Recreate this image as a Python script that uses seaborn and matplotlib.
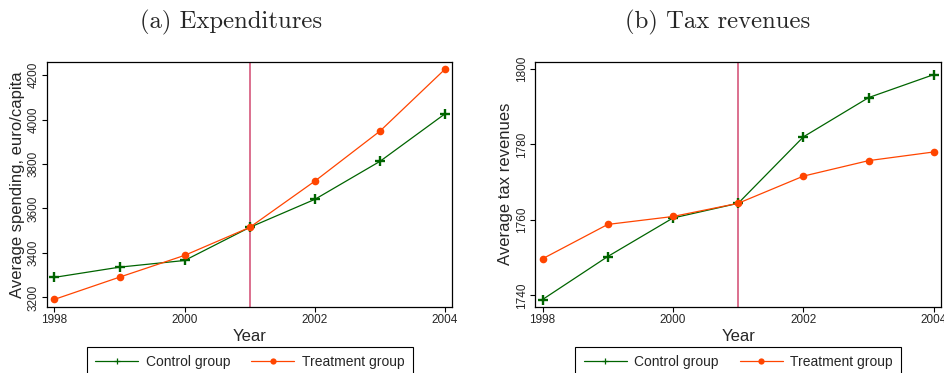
import matplotlib
matplotlib.use('Agg')

import pandas as pd
import matplotlib.pyplot as plt
import seaborn as sns

# data
years = [1998, 1999, 2000, 2001, 2002, 2003, 2004]
exp_control = [3290, 3336, 3366, 3515, 3641, 3812, 4026]
exp_treatment = [3191, 3291, 3389, 3515, 3723, 3948, 4227]
tax_control = [1738.9, 1750.3, 1760.5, 1764.4, 1782.0, 1792.4, 1798.5]
tax_treatment = [1749.7, 1758.8, 1760.9, 1764.4, 1771.6, 1775.7, 1778.0]
reform_year = 2001

GREEN = '#006400'
ORANGE = '#ff4500'
VLINE = '#d6587c'

sns.set_style('ticks')
plt.rcParams['font.family'] = ['Liberation Sans', 'DejaVu Sans']
plt.rcParams['axes.unicode_minus'] = False

fig = plt.figure(figsize=(9.45, 3.73), dpi=100)
ax1 = fig.add_axes([0.050, 0.1777, 0.4286, 0.6568])
ax2 = fig.add_axes([0.5665, 0.1777, 0.4293, 0.6568])


def panel(ax, ctrl, treat, ylabel, yticks, ylim):
    df = pd.DataFrame({'Year': years, 'Control group': ctrl, 'Treatment group': treat})
    ax.axvline(reform_year, color=VLINE, lw=1.2, zorder=1)
    sns.lineplot(data=df, x='Year', y='Control group', ax=ax, color=GREEN, lw=0.9,
                 marker='+', markersize=7.5, markeredgewidth=1.7, markeredgecolor=GREEN,
                 label='Control group', legend=False)
    sns.lineplot(data=df, x='Year', y='Treatment group', ax=ax, color=ORANGE, lw=0.9,
                 marker='o', markersize=5.5, markeredgewidth=0, markerfacecolor=ORANGE,
                 label='Treatment group', legend=False)
    ax.set_xlim(1997.89, 2004.11)
    ax.set_ylim(*ylim)
    ax.set_xticks([1998, 2000, 2002, 2004])
    ax.set_yticks(yticks)
    ax.set_xlabel('Year', fontsize=12, labelpad=2)
    ax.set_ylabel(ylabel, fontsize=12, labelpad=2)
    ax.tick_params(axis='both', labelsize=8.5, length=3.5, width=0.8, color='black', pad=2)
    ax.tick_params(axis='y', labelrotation=90)
    for lab in ax.get_yticklabels():
        lab.set_va('center')
    for s in ax.spines.values():
        s.set_visible(True)
        s.set_color('black')
        s.set_linewidth(0.9)
    leg = ax.legend(loc='upper center', bbox_to_anchor=(0.5, -0.163), ncol=2,
                    frameon=True, fancybox=False, framealpha=1, edgecolor='black',
                    fontsize=10, handlelength=3.1, columnspacing=1.5, borderpad=0.6,
                    borderaxespad=0, handletextpad=0.55, numpoints=1)
    leg.get_frame().set_linewidth(0.8)
    h_ctrl, h_treat = leg.legend_handles
    h_ctrl.set_markersize(5)
    h_ctrl.set_markeredgewidth(0.9)
    h_treat.set_markersize(4.5)


panel(ax1, exp_control, exp_treatment, 'Average spending, euro/capita',
      [3200, 3400, 3600, 3800, 4000, 4200], (3158, 4260))
panel(ax2, tax_control, tax_treatment, 'Average tax revenues',
      [1740, 1760, 1780, 1800], (1737, 1801.9))

fig.text(231 / 945, 1 - 22 / 373, '(a) Expenditures', ha='center', va='center',
         fontsize=17.8, family=['cmr10', 'DejaVu Serif'])
fig.text(718 / 945, 1 - 22 / 373, '(b) Tax revenues', ha='center', va='center',
         fontsize=17.8, family=['cmr10', 'DejaVu Serif'])

fig.savefig('out.png', dpi=100)
